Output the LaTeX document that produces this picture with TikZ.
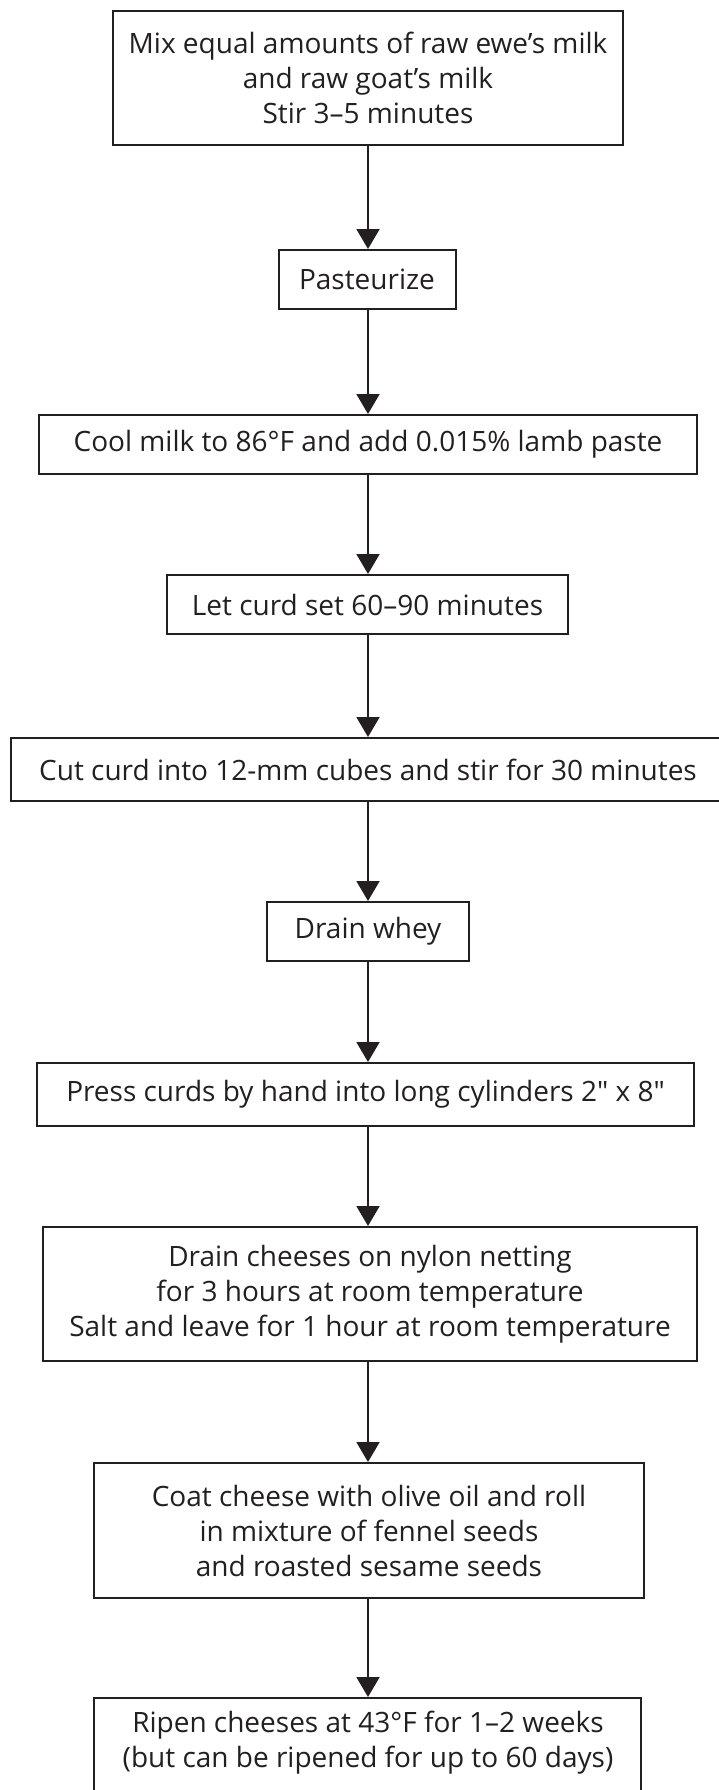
\documentclass[tikz,border=0pt]{standalone}
\usepackage{fontspec}
\newfontfamily\boxfont{Open Sans}
\usetikzlibrary{arrows.meta}
\definecolor{ink}{HTML}{231F20}
\tikzset{
  stepbox/.style={draw=ink, line width=2pt, text=ink, inner sep=0pt, align=center,
    font=\boxfont\fontsize{28}{35}\selectfont, rectangle},
  steptext/.style={text=ink, inner sep=0pt, align=center, font=\boxfont\fontsize{28}{35}\selectfont},
  flow/.style={draw=ink, line width=2pt, -{Triangle[length=20pt,width=23pt]}}
}
\begin{document}
\begin{tikzpicture}[x=1pt,y=-1pt]
\useasboundingbox (0,0) rectangle (719,1790);
\clip (0,0) rectangle (719,1790);
\node[stepbox, minimum width=510pt, minimum height=134pt] (mix) at (368,78)
  {Mix equal amounts of raw ewe’s milk\\and raw goat’s milk\\Stir 3–5 minutes};
\node[stepbox, minimum width=177pt, minimum height=59pt] (past) at (367,279.5) {Pasteurize};
\node[stepbox, minimum width=658pt, minimum height=59pt] (cool) at (368,444.5)
  {Cool milk to 86°F and add 0.015\% lamb paste};
\node[stepbox, minimum width=401pt, minimum height=59pt] (set) at (367.5,604.5)
  {Let curd set 60–90 minutes};
\node[stepbox, minimum width=714pt, minimum height=63pt] (cut) at (368,769.5)
  {Cut curd into 12-mm cubes and stir for 30 minutes};
\node[stepbox, minimum width=202pt, minimum height=59pt] (whey) at (368,931.5) {Drain whey};
\node[stepbox, minimum width=657pt, minimum height=63pt] (press) at (365.5,1094.5)
  {Press curds by hand into long cylinders 2" x 8"};
\node[stepbox, minimum width=654pt, minimum height=134pt] (drain) at (370,1294)
  {Drain cheeses on nylon netting\\for 3 hours at room temperature\\Salt and leave for 1 hour at room temperature};
\node[stepbox, minimum width=550pt, minimum height=135pt] (coat) at (369,1530.5)
  {Coat cheese with olive oil and roll\\in mixture of fennel seeds\\and roasted sesame seeds};
\node[stepbox, minimum width=547pt, minimum height=100pt] (ripen) at (367.5,1748) {};
\node[steptext] (ripentext) at (368,1742.5)
  {Ripen cheeses at 43°F for 1–2 weeks\\(but can be ripened for up to 60 days)};
\draw[flow] (mix.south -| 368,0) -- (past.north -| 368,0);
\draw[flow] (past.south -| 368,0) -- (cool.north -| 368,0);
\draw[flow] (cool.south -| 368,0) -- (set.north -| 368,0);
\draw[flow] (set.south -| 368,0) -- (cut.north -| 368,0);
\draw[flow] (cut.south -| 368,0) -- (whey.north -| 368,0);
\draw[flow] (whey.south -| 368,0) -- (press.north -| 368,0);
\draw[flow] (press.south -| 368,0) -- (drain.north -| 368,0);
\draw[flow] (drain.south -| 368,0) -- (coat.north -| 368,0);
\draw[flow] (coat.south -| 368,0) -- (ripen.north -| 368,0);
\end{tikzpicture}
\end{document}
